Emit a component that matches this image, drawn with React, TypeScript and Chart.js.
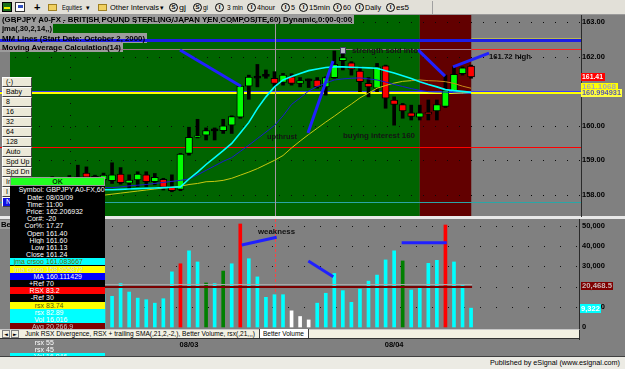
import React, { useEffect, useLayoutEffect, useRef } from 'react';
import { Chart, registerables } from 'chart.js';

Chart.register(...registerables);

const FONT = '"Liberation Sans", Arial, Helvetica, sans-serif';

// ---------------- DATA ----------------
// 60-minute bars (index 0..53). Bars 0..10 lie mostly behind the data window.
const OPEN = [
  158.30, 158.35, 158.28, 158.33, 158.44, 158.38, 158.46, 158.48, 158.62, 158.42, 158.42,
  158.40, 158.59, 158.33, 158.42, 158.57, 158.37, 158.44, 158.23, 158.15, 159.19, 159.66,
  159.72, 159.87, 159.85, 160.01, 160.24, 161.14, 161.40, 161.45, 161.37, 161.25, 161.41,
  161.22, 161.32, 161.32, 161.12, 161.39, 161.88, 161.82, 161.58, 161.22, 161.08, 161.73,
  160.74, 160.61, 160.37, 160.24, 160.39, 160.42, 160.55, 161.00, 161.50, 161.72,
];
const HIGH = [
  158.42, 158.45, 158.40, 158.48, 158.52, 158.50, 158.55, 158.85, 158.80, 158.56, 158.62,
  158.92, 158.78, 158.57, 158.66, 158.66, 158.61, 158.47, 158.57, 159.19, 159.95, 160.18,
  159.93, 159.93, 160.18, 160.28, 161.15, 161.46, 161.77, 161.61, 161.56, 161.51, 161.50,
  161.39, 161.35, 161.39, 161.41, 162.16, 162.16, 161.85, 161.70, 161.39, 161.80, 161.75,
  160.83, 160.64, 160.59, 160.59, 160.74, 160.74, 161.46, 161.70, 161.70, 161.75,
];
const LOW = [
  158.18, 158.22, 158.15, 158.25, 158.30, 158.28, 158.32, 158.30, 158.35, 158.30, 158.30,
  158.32, 158.30, 158.15, 158.23, 158.23, 158.28, 158.13, 158.08, 158.11, 159.14, 159.64,
  159.58, 159.58, 159.77, 159.77, 160.21, 160.76, 161.12, 161.37, 161.12, 161.17, 161.17,
  161.12, 161.10, 161.08, 160.88, 161.37, 161.61, 161.46, 160.98, 160.83, 160.98, 160.50,
  160.01, 160.21, 160.16, 160.16, 160.16, 160.16, 160.52, 161.00, 161.46, 161.37,
];
const CLOSE = [
  158.35, 158.28, 158.33, 158.44, 158.38, 158.46, 158.40, 158.48, 158.50, 158.53, 158.56,
  158.57, 158.34, 158.42, 158.59, 158.37, 158.50, 158.21, 158.11, 159.17, 159.66, 159.70,
  159.85, 159.87, 159.99, 160.26, 161.14, 161.40, 161.40, 161.45, 161.22, 161.46, 161.22,
  161.30, 161.32, 161.12, 161.39, 161.77, 161.97, 161.63, 161.27, 161.12, 161.70, 160.79,
  160.61, 160.42, 160.26, 160.37, 160.33, 160.61, 161.03, 161.48, 161.67, 161.41,
];
// jma crsoo (fast, cyan)
const JMA_FAST = [
  158.08, 158.09, 158.10, 158.10, 158.11, 158.11, 158.12, 158.12, 158.13, 158.13, 158.14,
  158.14, 158.15, 158.16, 158.17, 158.18, 158.19, 158.20, 158.21, 158.22, 158.45, 158.65,
  158.87, 159.07, 159.27, 159.48, 159.78, 160.09, 160.49, 160.83, 161.12, 161.32, 161.42,
  161.51, 161.59, 161.64, 161.68, 161.70, 161.70, 161.69, 161.68, 161.67, 161.66, 161.59,
  161.52, 161.44, 161.36, 161.27, 161.19, 161.12, 161.04, 161.01, 160.99, 160.96,
];
// MA (blue)
const MA_LINE = [
  158.10, 158.11, 158.12, 158.13, 158.14, 158.15, 158.16, 158.17, 158.18, 158.19, 158.20,
  158.20, 158.22, 158.25, 158.27, 158.29, 158.32, 158.35, 158.38, 158.41, 158.45, 158.57,
  158.70, 158.83, 158.96, 159.07, 159.25, 159.43, 159.62, 159.81, 160.00, 160.28, 160.61,
  160.80, 161.00, 161.13, 161.23, 161.32, 161.35, 161.37, 161.38, 161.35, 161.32, 161.26,
  161.19, 161.13, 161.07, 161.02, 160.98, 160.97, 160.97, 160.95, 160.94, 160.93,
];
// jma crsoo (slow, yellow)
const JMA_SLOW = [
  157.80, 157.82, 157.83, 157.85, 157.86, 157.88, 157.89, 157.91, 157.93, 157.95, 157.98,
  158.01, 158.04, 158.07, 158.10, 158.13, 158.16, 158.19, 158.21, 158.24, 158.29, 158.32,
  158.37, 158.38, 158.41, 158.47, 158.56, 158.65, 158.75, 158.87, 158.99, 159.13, 159.35,
  159.55, 159.74, 159.92, 160.10, 160.27, 160.45, 160.62, 160.80, 160.94, 161.08, 161.16,
  161.23, 161.28, 161.30, 161.32, 161.30, 161.29, 161.27, 161.22, 161.14, 161.08,
];
// Better Volume
const VOLUME = [
  14200, 18100, 12500, 16300, 19800, 13100, 15400, 17200, 18900, 12100, 16400,
  15200, 21500, 17300, 14300, 13500, 11800, 14000, 27300, 31300, 37700, 32200,
  21800, 21500, 27700, 31300, 51000, 33800, 24800, 14700, 16000, 16000, 8000,
  5200, 3500, 11800, 16700, 26500, 18000, 12200, 18800, 22700, 25700, 33200,
  37700, 32700, 18300, 19700, 31500, 33000, 50500, 32200, 20500, 9322,
];
// c = normal, r = climax, g = low-volume churn, w = low volume
const VOLUME_KIND = [
  'c', 'c', 'c', 'c', 'c', 'c', 'c', 'c', 'c', 'c', 'c',
  'c', 'c', 'c', 'c', 'c', 'c', 'c', 'c', 'r', 'c', 'c',
  'g', 'c', 'g', 'c', 'r', 'c', 'c', 'c', 'c', 'c', 'w',
  'w', 'w', 'c', 'c', 'c', 'c', 'c', 'c', 'c', 'c', 'c',
  'c', 'g', 'c', 'c', 'c', 'c', 'r', 'c', 'c', 'c',
];
const VOLUME_AVG = 20468.5;

const PRICE_TICKS = [158, 159, 160, 161, 162, 163];
const VOLUME_TICKS = [0, 10000, 20000, 30000, 40000, 50000];
const DATE_TICKS = [20, 44];
const DATE_LABELS = ['08/03', '08/04'];

// horizontal study levels (price)
const LEVEL_TOP_THIN = 162.53;
const LEVEL_MM = 162.46;
const LEVEL_MA_CALC = 162.2;
const LEVEL_BLUE = 160.98;
const LEVEL_YELLOW = 160.94;
const LEVEL_RED = 159.37;
const LEVEL_TEAL = 157.78;

// background zones (bar index)
const ZONE_RED_START = 47.0;
const ZONE_RED_END = 53.05;
const CURSOR_BAR = 30.06;
const GRID_V_BAR = 6.08;

// hand-drawn trend lines: [bar1, price1, bar2, price2]
const PRICE_TRENDLINES = [
  [18.95, 162.19, 26.08, 161.14],
  [33.92, 159.78, 36.85, 161.87],
  [46.79, 162.19, 49.95, 161.43],
  [50.89, 161.70, 55.10, 162.10],
];
const VOLUME_TRENDLINES = [
  [26.17, 40600, 30.26, 44400],
  [33.96, 32700, 36.88, 24900],
  [44.88, 41700, 50.15, 41700],
];

const X_MIN = -0.94;
const X_MAX = 65.86;
const P_MIN = 157.348;
const P_MAX = 163.203;
const V_MIN = -495;
const V_MAX = 53465;

// ---------------- helpers ----------------
const BARS = OPEN.map((_, i) => i);
const KIND_COLOR: Record<string, string> = { c: '#00ffff', r: '#ff0000', g: '#008000', w: '#ffffff' };

function Fit({ w, children }: any) {
  const ref = useRef<HTMLSpanElement>(null);
  useLayoutEffect(() => {
    const el = ref.current;
    if (!el) return;
    el.style.transform = 'none';
    const nat = el.getBoundingClientRect().width;
    if (nat > 0) el.style.transform = `scaleX(${w / nat})`;
  }, [w]);
  return (
    <span ref={ref} style={{ display: 'inline-block', whiteSpace: 'nowrap', transformOrigin: '0 50%', verticalAlign: 'top' }}>
      {children}
    </span>
  );
}

function T({ x, y, h = 9, size = 8, bold = false, color = '#000', fit, children, bg, w, pad = 0 }: any) {
  return (
    <div
      style={{
        position: 'absolute', left: x, top: y, height: h, lineHeight: `${h}px`, fontSize: size,
        fontWeight: bold ? 700 : 400, color, whiteSpace: 'nowrap', fontFamily: FONT,
        background: bg, width: w, paddingLeft: pad, boxSizing: 'border-box', overflow: 'visible',
      }}
    >
      {fit ? <Fit w={fit}>{children}</Fit> : children}
    </div>
  );
}

// ---------------- plugins ----------------
const LABEL_BOXES = [
  [0, 0, 354, 9],
  [0, 9, 53, 9],
  [0, 18, 147, 10],
  [0, 28, 123, 9],
];

const pricePanePlugin = {
  id: 'pricePane',
  beforeDatasetsDraw(chart: any) {
    const { ctx, chartArea: a, scales } = chart;
    const px = (v: number) => scales.x.getPixelForValue(v);
    const py = (v: number) => scales.y.getPixelForValue(v);
    ctx.save();
    const r0 = px(ZONE_RED_START);
    const r1 = px(ZONE_RED_END);
    ctx.fillStyle = '#006400';
    ctx.fillRect(a.left, a.top, r0 - a.left, a.bottom - a.top);
    ctx.fillStyle = '#620000';
    ctx.fillRect(r0, a.top, r1 - r0, a.bottom - a.top);
    ctx.fillStyle = '#808080';
    ctx.fillRect(r1, a.top, a.right - r1, a.bottom - a.top);
    ctx.fillStyle = '#9c9c9c';
    LABEL_BOXES.forEach(([x, y, w, h]) => ctx.fillRect(x, y, w, h));
    // dotted grid
    ctx.fillStyle = '#0a0a0a';
    PRICE_TICKS.forEach((v) => {
      const yy = Math.round(py(v));
      for (let xx = a.left + 5; xx < a.right; xx += 12) ctx.fillRect(xx, yy, 1, 1);
    });
    const gx = Math.round(px(GRID_V_BAR));
    for (let yy = a.top + 40; yy < a.bottom; yy += 12) ctx.fillRect(gx, yy, 1, 1);
    // levels
    const hline = (v: number, color: string, w: number, x0 = 0, x1 = a.right) => {
      ctx.fillStyle = color;
      ctx.fillRect(x0, Math.round(py(v) - w / 2), x1 - x0, w);
    };
    hline(LEVEL_TOP_THIN, '#b8b850', 1, r1);
    hline(LEVEL_MM, '#1c1ce6', 3);
    hline(LEVEL_MA_CALC, '#a07888', 1, 0, r1);
    hline(LEVEL_MA_CALC, '#ff2020', 1, r1);
    hline(LEVEL_BLUE, '#3c3cff', 1);
    hline(LEVEL_YELLOW, '#ffff00', 2);
    hline(LEVEL_RED, '#ff0000', 1);
    hline(LEVEL_TEAL, '#2aa6a6', 1);
    // cursor
    ctx.fillStyle = '#a496a4';
    ctx.fillRect(Math.round(px(CURSOR_BAR)), 0, 1, a.bottom);
    ctx.restore();
  },
  afterDatasetsDraw(chart: any) {
    const { ctx, chartArea: a, scales } = chart;
    const px = (v: number) => scales.x.getPixelForValue(v);
    const py = (v: number) => scales.y.getPixelForValue(v);
    ctx.save();
    ctx.strokeStyle = '#2020ff';
    ctx.lineWidth = 3;
    PRICE_TRENDLINES.forEach(([b1, p1, b2, p2]) => {
      ctx.beginPath();
      ctx.moveTo(px(b1), py(p1));
      ctx.lineTo(px(b2), py(p2));
      ctx.stroke();
    });
    ctx.fillStyle = '#e8e8e8';
    ctx.fillRect(0, a.bottom - 1, chart.width, 1);
    ctx.fillStyle = '#2a2a2a';
    ctx.fillRect(a.right, 0, 1, chart.height);
    ctx.restore();
  },
};

const volumePanePlugin = {
  id: 'volumePane',
  beforeDatasetsDraw(chart: any) {
    const { ctx, chartArea: a, scales } = chart;
    const px = (v: number) => scales.x.getPixelForValue(v);
    const py = (v: number) => scales.y.getPixelForValue(v);
    ctx.save();
    ctx.fillStyle = '#e8e8e8';
    ctx.fillRect(0, 0, chart.width, 2);
    ctx.fillStyle = '#151515';
    VOLUME_TICKS.filter((v) => v > 0).forEach((v) => {
      const yy = Math.round(py(v));
      for (let xx = a.left + 6; xx < a.right; xx += 16) ctx.fillRect(xx, yy, 1, 1);
    });
    ctx.strokeStyle = '#ff4040';
    ctx.lineWidth = 1;
    ctx.setLineDash([3, 2]);
    const cx = Math.round(px(CURSOR_BAR)) + 0.5;
    ctx.beginPath();
    ctx.moveTo(cx, a.top);
    ctx.lineTo(cx, a.bottom);
    ctx.stroke();
    ctx.restore();
  },
  afterDatasetsDraw(chart: any) {
    const { ctx, chartArea: a, scales } = chart;
    const px = (v: number) => scales.x.getPixelForValue(v);
    const py = (v: number) => scales.y.getPixelForValue(v);
    ctx.save();
    const ay = Math.round(py(VOLUME_AVG));
    const x0 = px(0);
    const x1 = px(BARS.length - 1) + 1;
    ctx.fillStyle = '#a8a8a8';
    ctx.fillRect(x0, ay - 2, x1 - x0, 1);
    ctx.fillStyle = '#7a0000';
    ctx.fillRect(x0, ay, x1 - x0, 2);
    ctx.strokeStyle = '#2020ff';
    ctx.lineWidth = 3;
    VOLUME_TRENDLINES.forEach(([b1, v1, b2, v2]) => {
      ctx.beginPath();
      ctx.moveTo(px(b1), py(v1));
      ctx.lineTo(px(b2), py(v2));
      ctx.stroke();
    });
    ctx.fillStyle = '#2a2a2a';
    ctx.fillRect(a.right - 2, 2, 1, a.bottom + 10);
    ctx.restore();
  },
};

const tickFont = { family: FONT, size: 7.5, weight: 'bold' as const };

function PriceChart() {
  const ref = useRef<HTMLCanvasElement>(null);
  useEffect(() => {
    const bodyColors = BARS.map((i) =>
      Math.abs(OPEN[i] - CLOSE[i]) < 0.005 ? '#000000' : CLOSE[i] > OPEN[i] ? '#00ff00' : '#ff0000'
    );
    const chart = new Chart(ref.current as HTMLCanvasElement, {
      type: 'bar',
      data: {
        datasets: [
          {
            type: 'line', label: 'jma crsoo fast', order: 0,
            data: BARS.map((i) => ({ x: i, y: JMA_FAST[i] })),
            borderColor: '#00ffff', borderWidth: 1.6, pointRadius: 0, tension: 0,
          },
          {
            type: 'line', label: 'MA', order: 0,
            data: BARS.map((i) => ({ x: i, y: MA_LINE[i] })),
            borderColor: '#1a1ad0', borderWidth: 1, pointRadius: 0, tension: 0,
          },
          {
            type: 'line', label: 'jma crsoo slow', order: 0,
            data: BARS.map((i) => ({ x: i, y: JMA_SLOW[i] })),
            borderColor: '#c8c810', borderWidth: 1, pointRadius: 0, tension: 0,
            segment: {
              borderColor: (c: any) => (c.p0.parsed.x >= ZONE_RED_START - 1 ? '#c88a18' : '#c8c810'),
            },
          },
          {
            type: 'bar', label: 'body', order: 1, grouped: false,
            data: BARS.map((i) => {
              const lo = Math.min(OPEN[i], CLOSE[i]);
              const hi = Math.max(OPEN[i], CLOSE[i]);
              return { x: i, y: hi - lo < 0.005 ? [lo - 0.03, hi + 0.03] : [lo, hi] };
            }),
            backgroundColor: bodyColors, borderColor: '#000000', borderWidth: 1,
            borderSkipped: false, barThickness: 7,
          },
          {
            type: 'bar', label: 'wick', order: 2, grouped: false,
            data: BARS.map((i) => ({ x: i, y: [LOW[i], HIGH[i]] })),
            backgroundColor: '#000000', barThickness: 3,
          },
        ] as any,
      },
      options: {
        animation: false, responsive: false, maintainAspectRatio: false, events: [],
        layout: { padding: { left: 10, right: 0, top: 0, bottom: 0 } },
        plugins: { legend: { display: false }, tooltip: { enabled: false } },
        scales: {
          x: { type: 'linear', min: X_MIN, max: X_MAX, display: false, offset: false },
          y: {
            type: 'linear', position: 'right', min: P_MIN, max: P_MAX,
            grid: { display: false, drawTicks: false }, border: { display: false },
            ticks: { color: '#000', font: tickFont, padding: 1, callback: (v: any) => Number(v).toFixed(2) },
            afterBuildTicks: (s: any) => { s.ticks = PRICE_TICKS.map((v) => ({ value: v })); },
            afterFit: (s: any) => { s.width = 44; s.paddingTop = 0; s.paddingBottom = 0; },
          },
        },
      } as any,
      plugins: [pricePanePlugin],
    });
    return () => chart.destroy();
  }, []);
  return <canvas ref={ref} width={625} height={202} style={{ position: 'absolute', left: 0, top: 15, width: 625, height: 202 }} />;
}

function VolumeChart() {
  const ref = useRef<HTMLCanvasElement>(null);
  useEffect(() => {
    const chart = new Chart(ref.current as HTMLCanvasElement, {
      type: 'bar',
      data: {
        datasets: [
          {
            label: 'Better Volume',
            data: BARS.map((i) => ({ x: i, y: VOLUME[i] })),
            backgroundColor: BARS.map((i) => KIND_COLOR[VOLUME_KIND[i]]),
            barThickness: 3, grouped: false,
          },
        ],
      },
      options: {
        animation: false, responsive: false, maintainAspectRatio: false, events: [],
        layout: { padding: { left: 10, right: 0, top: 2, bottom: 0 } },
        plugins: { legend: { display: false }, tooltip: { enabled: false } },
        scales: {
          x: {
            type: 'linear', min: X_MIN, max: X_MAX, offset: false,
            grid: { display: false, drawTicks: false }, border: { display: false },
            ticks: { color: '#000', font: tickFont, padding: 12, maxRotation: 0, autoSkip: false,
              callback: (_v: any, idx: number) => DATE_LABELS[idx] ?? '' },
            afterBuildTicks: (s: any) => { s.ticks = DATE_TICKS.map((v) => ({ value: v })); },
            afterFit: (s: any) => { s.height = 29; s.paddingLeft = 0; s.paddingRight = 0; },
          },
          y: {
            type: 'linear', position: 'right', min: V_MIN, max: V_MAX,
            grid: { display: false, drawTicks: false }, border: { display: false },
            ticks: { color: '#000', font: tickFont, padding: 1, callback: (v: any) => Number(v).toLocaleString('en-US') },
            afterBuildTicks: (s: any) => { s.ticks = VOLUME_TICKS.map((v) => ({ value: v })); },
            afterFit: (s: any) => { s.width = 44; s.paddingTop = 0; s.paddingBottom = 0; },
          },
        },
      } as any,
      plugins: [volumePanePlugin],
    });
    return () => chart.destroy();
  }, []);
  return <canvas ref={ref} width={625} height={140} style={{ position: 'absolute', left: 0, top: 217, width: 625, height: 140 }} />;
}

// ---------------- chrome ----------------
const INTERVALS: [string, number, string, number, number][] = [
  ['S', 169, 'gj', 179, 7], ['S', 193, 'gi', 203, 5], ['I', 215, '3 min', 227, 16],
  ['I', 247, '4hour', 257, 18], ['I', 281, '5', 291, 4], ['I', 299, '15min', 309, 21],
  ['I', 333, '60', 343, 8], ['I', 355, 'Daily', 365, 16], ['I', 386, 'es5', 396, 13],
];

function Toolbar() {
  return (
    <div style={{ position: 'absolute', left: 0, top: 0, width: 625, height: 15, background: '#e2e0d8', borderBottom: '1px solid #9a9a9a', boxSizing: 'border-box' }}>
      <div style={{ position: 'absolute', left: 2, top: 2, width: 10, height: 10, background: '#1a6e1a', border: '1px solid #000', boxSizing: 'border-box' }}>
        <div style={{ position: 'absolute', left: 1, top: 4, width: 6, height: 2, background: '#f0f000' }} />
      </div>
      <div style={{ position: 'absolute', left: 15, top: 2, width: 10, height: 10, background: '#fff', border: '1px solid #333', boxSizing: 'border-box' }}>
        <div style={{ position: 'absolute', left: 2, top: 2, width: 5, height: 3, background: '#3050c0' }} />
      </div>
      <T x={34} y={2} h={10} size={11} bold>+</T>
      <div style={{ position: 'absolute', left: 48, top: 4, width: 9, height: 7, background: '#f0d060', border: '1px solid #a08020', boxSizing: 'border-box' }} />
      <T x={62} y={3} fit={20}>Equities</T>
      <T x={86} y={3} size={7}>▾</T>
      <div style={{ position: 'absolute', left: 98, top: 4, width: 9, height: 7, background: '#f0d060', border: '1px solid #a08020', boxSizing: 'border-box' }} />
      <T x={110} y={3} fit={49}>Other Intervals</T>
      <T x={160} y={3} size={7}>▾</T>
      {INTERVALS.map(([l, cx, t, tx, tw], k) => (
        <React.Fragment key={k}>
          <div style={{ position: 'absolute', left: cx, top: 3, width: 9, height: 9, borderRadius: '50%', border: '1px solid #000', boxSizing: 'border-box', fontSize: 6, lineHeight: '7px', textAlign: 'center', fontWeight: 700, fontFamily: FONT }}>{l}</div>
          <T x={tx} y={3} fit={tw}>{t}</T>
        </React.Fragment>
      ))}
      <div style={{ position: 'absolute', left: 432, top: 1, width: 1, height: 13, background: '#a0a0a0' }} />
    </div>
  );
}

const BUTTONS = ['(-)', 'Baby', '8', '16', '32', '64', '128', 'Auto', 'Spd Up', 'Spd Dn', 'In', 'I', 'N'];

const PANEL_ROWS: [string, string, string, string][] = [
  ['Symbol:', 'GBPJPY A0-FX,60', '#000000', '#ffffff'],
  ['Date:', '08/03/09', '#000000', '#ffffff'],
  ['Time:', '11:00', '#000000', '#ffffff'],
  ['Price:', '162.206932', '#000000', '#ffffff'],
  ['Cor#:', '-20', '#000000', '#ffffff'],
  ['Cor%:', '17.27', '#000000', '#ffffff'],
  ['Open', '161.40', '#000000', '#ffffff'],
  ['High', '161.60', '#000000', '#ffffff'],
  ['Low', '161.13', '#000000', '#ffffff'],
  ['Close', '161.24', '#000000', '#ffffff'],
  ['jma crsoo', '161.083667', '#00ffff', '#6a6a00'],
  ['jma crsoo', '158.955872', '#ffff00', '#d8d8d8'],
  ['MA', '160.111429', '#0000ff', '#ffffff'],
  ['+Ref', '70', '#000000', '#ffffff'],
  ['RSX', '83.2', '#ff0000', '#ffffff'],
  ['-Ref', '30', '#000000', '#ffffff'],
  ['rsx', '83.74', '#ffff00', '#5a5a00'],
  ['rsx', '82.89', '#00ffff', '#ffffff'],
  ['Vol', '16,016', '#00ffff', '#ffffff'],
  ['Avg', '20,266.9', '#800000', '#c0c0c0'],
];
const PANEL_LOWER: [string, string, string, string][] = [
  ['rsx', '55', '#808080', '#ffffff'],
  ['rsx', '45', '#808080', '#ffffff'],
  ['Vol', '16,046', '#00ffff', '#ffffff'],
];

function PanelRow({ top, row }: any) {
  const [label, value, bg, color] = row;
  return (
    <div style={{ position: 'absolute', left: 0, top, width: 95, height: 7.2, background: bg, color, fontSize: 7, lineHeight: '7.2px', fontFamily: FONT, whiteSpace: 'nowrap' }}>
      <div style={{ position: 'absolute', left: 0, width: 34, textAlign: 'right' }}>{label}</div>
      <div style={{ position: 'absolute', left: 36 }}>{value}</div>
    </div>
  );
}

function InfoPanel() {
  return (
    <div style={{ position: 'absolute', left: 10, top: 177, width: 95, height: 180, overflow: 'hidden' }}>
      <div style={{ position: 'absolute', left: 0, top: 0, width: 95, height: 9, background: '#22ff22', border: '1px solid #9a9a9a', boxSizing: 'border-box', textAlign: 'center', fontSize: 7, lineHeight: '7px', fontWeight: 700, color: '#004000', fontFamily: FONT }}>OK</div>
      <div style={{ position: 'absolute', left: 0, top: 9, width: 95, height: 144, background: '#000' }} />
      {PANEL_ROWS.map((r, k) => <PanelRow key={k} top={9.3 + k * 7.2} row={r} />)}
      {PANEL_LOWER.map((r, k) => <PanelRow key={'l' + k} top={162 + k * 7.2} row={r} />)}
    </div>
  );
}

export default function App() {
  useEffect(() => {
    document.body.style.margin = '0';
  }, []);
  return (
    <div style={{ position: 'fixed', left: 0, top: 0, width: 625, height: 369, overflow: 'hidden', background: '#808080', fontFamily: FONT }}>
      <Toolbar />
      <PriceChart />
      <VolumeChart />

      {/* study titles */}
      <T x={2} y={15} bold fit={350}>(GBPJPY A0-FX - BRITISH POUND STERLING/JAPAN YEN COMPOSITE,60) Dynamic,0:00-0:00</T>
      <T x={2} y={24} bold fit={50}>jma(,30,2,14,,)</T>
      <T x={2} y={33.5} bold fit={143}>MM Lines (Start Date: October 2, 2000)</T>
      <T x={2} y={43} bold fit={119}>Moving Average Calculation(14)</T>

      {/* annotations */}
      <div style={{ position: 'absolute', left: 340, top: 47, width: 6, height: 7, background: '#b8b8c8', border: '1px solid #404060', boxSizing: 'border-box' }} />
      <T x={352} y={45.5} bold color="#141414" fit={66}>strength sold into</T>
      <T x={267} y={131.5} bold color="#141414" fit={30}>upthrust</T>
      <T x={343} y={131} bold color="#141414" fit={72}>buying interest 160</T>
      <T x={489} y={51.5} bold color="#0a0a0a" fit={42}>161.72 high</T>
      <T x={258} y={226.5} bold color="#101010" fit={37}>weakness</T>

      {/* price axis markers */}
      <T x={581} y={73} h={8} bold color="#ffffff" bg="#ff0000" w={24} pad={1} fit={21}>161.41</T>
      <T x={581} y={89} h={8} bold color="#5a5aa8" bg="#ffff40" w={41} pad={1} fit={39}>160.994931</T>
      <T x={581} y={83} h={7} bold color="#a8a8b0" bg="#ffff00" w={37} pad={1} fit={34}>161.1068</T>

      {/* volume axis markers */}
      <T x={581} y={282} h={8} bold color="#c8b8b8" bg="#800000" w={32} pad={1} fit={30}>20,468.5</T>
      <T x={580} y={303.5} h={9} bold color="#ffffff" bg="#00ffff" w={21} pad={1} fit={19}>9,322</T>

      {/* pane labels */}
      <T x={0} y={220} bold bg="#9c9c9c" pad={1} fit={52}>Better Volume</T>

      {/* chart buttons */}
      {BUTTONS.map((b, k) => (
        <div key={k} style={{ position: 'absolute', left: 2, top: 77 + k * 10, width: 30, height: 10, boxSizing: 'border-box', background: b === 'N' ? '#1010e0' : '#ece9d8', borderTop: '1px solid #ffffff', borderLeft: '1px solid #ffffff', borderRight: '1px solid #404040', borderBottom: '1px solid #404040', fontSize: 7, lineHeight: '8px', paddingLeft: 3, color: b === 'N' ? '#fff' : '#000', fontFamily: FONT, whiteSpace: 'nowrap' }}>{b}</div>
      ))}

      <InfoPanel />

      {/* tab bar */}
      <div style={{ position: 'absolute', left: 0, top: 329, width: 580, height: 10, background: '#f2f0e2', borderTop: '1px solid #c8c8c8', borderBottom: '1px solid #303030', borderRight: '1px solid #303030', boxSizing: 'border-box' }}>
        <div style={{ position: 'absolute', left: 2, top: 0, width: 8, height: 8, border: '1px solid #808080', boxSizing: 'border-box', fontSize: 5, lineHeight: '6px', textAlign: 'center', fontFamily: '"DejaVu Sans", sans-serif' }}>◄</div>
        <div style={{ position: 'absolute', left: 11, top: 0, width: 8, height: 8, border: '1px solid #808080', boxSizing: 'border-box', fontSize: 5, lineHeight: '6px', textAlign: 'center', fontFamily: '"DejaVu Sans", sans-serif' }}>►</div>
        <div style={{ position: 'absolute', left: 259, top: -1, width: 48, height: 9, background: '#ffffff', borderLeft: '1px solid #404040', borderRight: '1px solid #404040' }} />
      </div>
      <T x={25} y={329} h={9} size={8} color="#000" fit={230}>Junk RSX Divergence, RSX + trailing SMA(,21,2,-2,), Better Volume, rsx(,21,,,)</T>
      <T x={263} y={329} h={9} size={8} color="#000" fit={41}>Better Volume</T>

      {/* status bar */}
      <div style={{ position: 'absolute', left: 0, top: 356, width: 625, height: 13, background: '#ecebe4', borderTop: '1px solid #404040', boxSizing: 'border-box' }} />
      <T x={490} y={358} h={10} size={8} color="#000" fit={130}>Published by eSignal (www.esignal.com)</T>
    </div>
  );
}
